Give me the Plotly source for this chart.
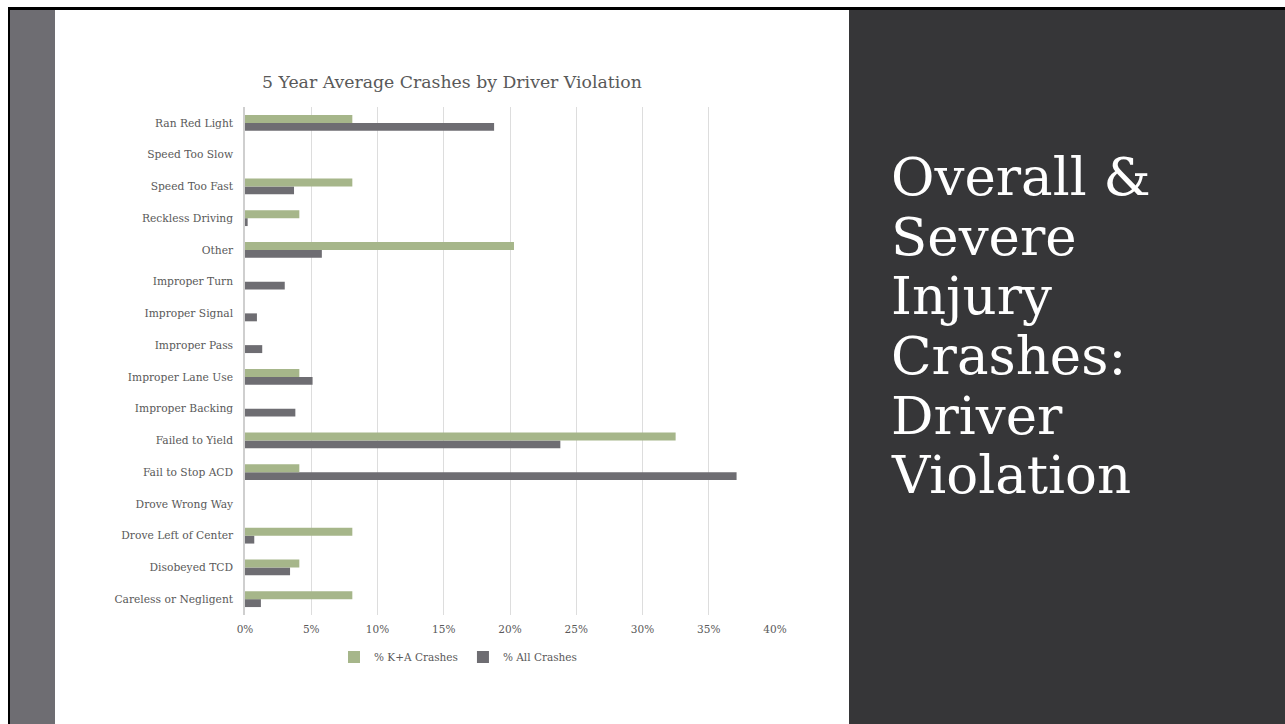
import plotly.graph_objects as go

# Data (bottom-to-top order as in the source chart)
categories = [
    "Careless or Negligent", "Disobeyed TCD", "Drove Left of Center", "Drove Wrong Way",
    "Fail to Stop ACD", "Failed to Yield", "Improper Backing", "Improper Lane Use",
    "Improper Pass", "Improper Signal", "Improper Turn", "Other",
    "Reckless Driving", "Speed Too Fast", "Speed Too Slow", "Ran Red Light",
]
ka_crashes = [8.1, 4.1, 8.1, 0, 4.1, 32.5, 0, 4.1, 0, 0, 0, 20.3, 4.1, 8.1, 0, 8.1]
all_crashes = [1.2, 3.4, 0.7, 0, 37.1, 23.8, 3.8, 5.1, 1.3, 0.9, 3.0, 5.8, 0.2, 3.7, 0, 18.8]
x_ticks = [0, 5, 10, 15, 20, 25, 30, 35, 40]
x_tick_labels = [f"{t}%" for t in x_ticks]

chart_title = "5 Year Average Crashes by Driver Violation"
slide_title_lines = ["Overall &", "Severe", "Injury", "Crashes:", "Driver", "Violation"]

W, H = 1285, 724
PX0, PX1 = 245, 775
PY0, PY1 = 107, 615


def px(x):
    return (x - PX0) / (PX1 - PX0)


def py(y):
    return (PY1 - y) / (PY1 - PY0)


GREEN = "#A6B68A"
GRAY = "#6E6D72"
TXT = "#595959"
SERIF = "DejaVu Serif"

fig = go.Figure()
fig.add_trace(go.Bar(
    y=categories, x=[v / 100 for v in all_crashes], orientation="h",
    name="% All Crashes", marker=dict(color=GRAY, line=dict(width=0)), legendrank=2,
))
fig.add_trace(go.Bar(
    y=categories, x=[v / 100 for v in ka_crashes], orientation="h",
    name="% K+A Crashes", marker=dict(color=GREEN, line=dict(width=0)), legendrank=1,
))

shapes = [
    dict(type="rect", xref="paper", yref="paper", x0=px(8), x1=px(1300), y0=py(7), y1=py(740),
         fillcolor="#000000", line=dict(width=0), layer="below"),
    dict(type="rect", xref="paper", yref="paper", x0=px(10), x1=px(849), y0=py(10), y1=py(740),
         fillcolor="#FFFFFF", line=dict(width=0), layer="below"),
    dict(type="rect", xref="paper", yref="paper", x0=px(10), x1=px(55), y0=py(10), y1=py(740),
         fillcolor="#6E6D72", line=dict(width=0), layer="below"),
    dict(type="rect", xref="paper", yref="paper", x0=px(849), x1=px(1300), y0=py(10), y1=py(740),
         fillcolor="#363638", line=dict(width=0), layer="below"),
]

annotations = [
    dict(text=chart_title, xref="paper", yref="paper", x=px(452), y=py(82),
         xanchor="center", yanchor="middle", showarrow=False,
         font=dict(family=SERIF, size=17.3, color=TXT)),
]
baselines = [195, 254.6, 314.2, 373.8, 433.4, 493]
BIG = 53
for line, b in zip(slide_title_lines, baselines):
    annotations.append(dict(
        text=line, xref="paper", yref="paper", x=px(889), y=py(b - 0.346 * BIG),
        xanchor="left", yanchor="middle", showarrow=False,
        font=dict(family=SERIF, size=BIG, color="#FFFFFF"),
    ))

fig.update_layout(
    width=W, height=H,
    margin=dict(l=PX0, r=W - PX1, t=PY0, b=H - PY1, pad=0),
    paper_bgcolor="#FFFFFF", plot_bgcolor="rgba(0,0,0,0)",
    barmode="group", bargap=0.5, bargroupgap=0,
    shapes=shapes, annotations=annotations,
    showlegend=True,
    legend=dict(orientation="h", x=px(458), y=py(657), xanchor="center", yanchor="middle",
                font=dict(family=SERIF, size=10.5, color=TXT), itemwidth=30,
                bgcolor="rgba(0,0,0,0)"),
    xaxis=dict(range=[0, 0.4], tickvals=[t / 100 for t in x_ticks], ticktext=x_tick_labels,
               showgrid=True, gridcolor="#DDDDDD", gridwidth=1, zeroline=False,
               showline=False, ticks="", ticklabelstandoff=6,
               tickfont=dict(family=SERIF, size=10.5, color=TXT), fixedrange=True),
    yaxis=dict(categoryorder="array", categoryarray=categories, showgrid=False,
               zeroline=False, showline=True, linecolor="#CFCFCF", linewidth=1.5,
               ticks="", ticklabelstandoff=8,
               tickfont=dict(family=SERIF, size=10.7, color=TXT), fixedrange=True),
    font=dict(family=SERIF, color=TXT),
)

fig.write_html("out.html", config=dict(displayModeBar=False),
               post_script="document.body.style.margin='0';document.body.style.overflow='hidden';")
